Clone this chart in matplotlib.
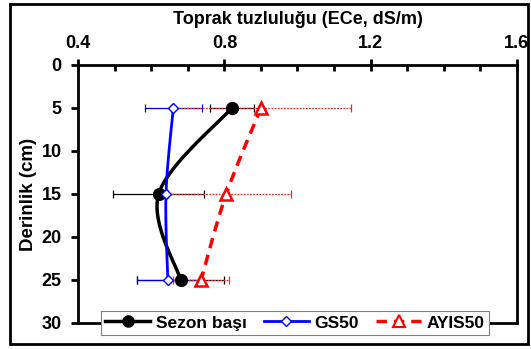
import numpy as np
import matplotlib.pyplot as plt
from matplotlib.patches import Rectangle
from matplotlib.ticker import MultipleLocator

plt.rcParams['font.family'] = ['Liberation Sans', 'DejaVu Sans']
plt.rcParams['font.weight'] = 'bold'

# Depth (cm) and soil salinity (ECe, dS/m) per treatment
depth = [5, 15, 25]
sezon_basi = [0.82, 0.62, 0.68]
sezon_basi_err = [0.06, 0.125, 0.12]
gs50 = [0.66, 0.64, 0.645]
gs50_err = [0.078, 0.005, 0.085]
ayis50 = [0.90, 0.805, 0.736]
ayis50_err = [0.246, 0.176, 0.077]


def smooth_curve(ax, xs, ys, n=40):
    """Excel-like smoothed line (cubic Bezier through points), built in axes space."""
    pts = ax.transLimits.transform(np.column_stack([xs, ys]))
    out = [pts[0]]
    m = len(pts)
    for i in range(m - 1):
        p0 = pts[i - 1] if i > 0 else pts[i]
        p1, p2 = pts[i], pts[i + 1]
        p3 = pts[i + 2] if i + 2 < m else pts[i + 1]
        c1 = p1 + (p2 - p0) / 6.0
        c2 = p2 - (p3 - p1) / 6.0
        t = np.linspace(0, 1, n)[1:, None]
        seg = ((1 - t) ** 3) * p1 + 3 * ((1 - t) ** 2) * t * c1 + 3 * (1 - t) * t ** 2 * c2 + t ** 3 * p2
        out.extend(seg)
    out = np.array(out)
    return ax.transLimits.inverted().transform(out).T


fig = plt.figure(figsize=(5.31, 3.49), dpi=100)
ax = fig.add_axes([0.1475, 0.0745, 0.8255, 0.7393])
ax.set_xlim(0.4, 1.6)
ax.set_ylim(30, 0)

# error bars
ax.errorbar(sezon_basi, depth, xerr=sezon_basi_err, fmt='none', ecolor='black',
            elinewidth=0.9, capsize=3, capthick=0.9, zorder=2)
ax.errorbar(gs50, depth, xerr=gs50_err, fmt='none', ecolor='#0000cc',
            elinewidth=0.9, capsize=3, capthick=0.9, zorder=2)
eb = ax.errorbar(ayis50, depth, xerr=ayis50_err, fmt='none', ecolor='#e03030',
                 elinewidth=0.9, capsize=3, capthick=0.9, zorder=2)
eb[2][0].set_linestyle((0, (1.5, 1)))

# smoothed lines
sx, sy = smooth_curve(ax, sezon_basi, depth)
ax.plot(sx, sy, color='black', lw=2.5, zorder=3)
gx, gy = smooth_curve(ax, gs50, depth)
ax.plot(gx, gy, color='#0000ff', lw=2.0, zorder=3)
rx, ry = smooth_curve(ax, ayis50, depth)
ax.plot(rx, ry, color='#ff0000', lw=2.5, ls=(0, (3, 2)), zorder=3)

# markers
ax.plot(sezon_basi, depth, 'o', color='black', ms=8.5, zorder=4)
ax.plot(gs50, depth, 'D', mfc='white', mec='#0000ff', mew=1, ms=5.5, zorder=4)
ax.plot(ayis50, depth, '^', mfc='white', mec='#ff0000', mew=1.8, ms=9, zorder=4)

# legend handles
h1, = ax.plot([], [], '-o', color='black', lw=2.5, ms=8)
h2, = ax.plot([], [], '-D', color='#0000ff', mfc='white', mec='#0000ff', lw=2, ms=5.5)
h3, = ax.plot([], [], ls=(0, (3, 2)), marker='^', color='#ff0000', mfc='white',
              mec='#ff0000', lw=2.5, ms=9, mew=1.5)
leg = ax.legend([h1, h2, h3], ['Sezon başı', 'GS50', 'AYIS50'], ncol=3,
                loc='center', bbox_to_anchor=(0.494, 0.0), frameon=True, fancybox=False,
                framealpha=1, edgecolor='#808080', handlelength=2.6,
                columnspacing=1.0, handletextpad=0.3, borderpad=0.25,
                prop={'weight': 'bold', 'size': 12.5})
leg.get_frame().set_linewidth(0.8)
leg.set_zorder(5)

# axes styling
for s in ['top', 'left', 'bottom', 'right']:
    ax.spines[s].set_linewidth(2)
ax.xaxis.tick_top()
ax.xaxis.set_label_position('top')
ax.xaxis.set_minor_locator(MultipleLocator(0.1))
ax.yaxis.set_major_locator(MultipleLocator(5))
ax.set_xticks([0.4, 0.8, 1.2, 1.6])
ax.set_xticklabels(['0.4', '0.8', '1.2', '1.6'])
ax.tick_params(axis='x', which='major', direction='inout', length=8, width=2,
               labelsize=13, pad=5)
ax.tick_params(axis='x', which='minor', direction='in', length=4, width=2)
ax.tick_params(axis='y', which='major', direction='out', length=5, width=2,
               labelsize=13, pad=7)
ax.set_xlabel('Toprak tuzluluğu (ECe, dS/m)', fontsize=13, fontweight='bold', labelpad=8)
ax.set_ylabel('Derinlik (cm)', fontsize=13.5, fontweight='bold', labelpad=3)

# frame around the whole chart
fig.patches.append(Rectangle((10 / 531, 5 / 349), 518 / 531, 340 / 349,
                             transform=fig.transFigure, fill=False,
                             edgecolor='black', lw=2))

fig.savefig('out.png', dpi=100)
